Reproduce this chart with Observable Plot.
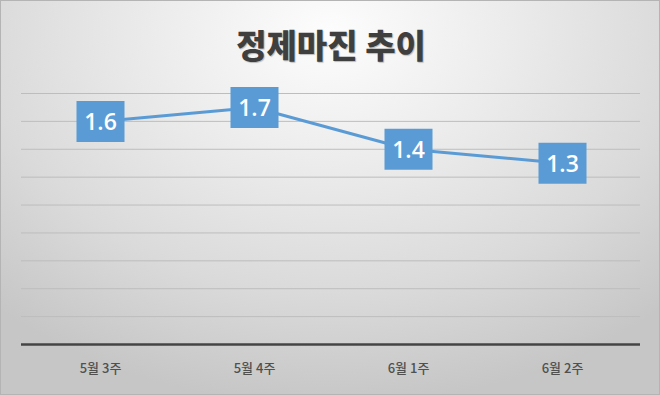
<!DOCTYPE html>
<html>
<head>
<meta charset="utf-8">
<script src="https://cdn.jsdelivr.net/npm/d3@7"></script>
<script src="https://cdn.jsdelivr.net/npm/@observablehq/plot@0.6"></script>
<style>
  html, body { margin: 0; padding: 0; }
  #chart {
    position: relative;
    width: 660px; height: 395px;
    box-sizing: border-box;
    border: 1px solid #b4b4b4;
    background: radial-gradient(ellipse 75% 95% at 50% 8%, #fdfdfd 0%, #ececec 35%, #dadada 70%, #c6c6c6 100%);
    overflow: hidden;
  }
  #title {
    position: absolute; left: 0; top: 19px; width: 660px;
    text-align: center;
    font-family: "Noto Sans CJK KR", sans-serif;
    font-weight: 900; font-size: 33px; color: #3f3f3f;
    text-shadow: 1px 1px 1px rgba(0,0,0,0.25);
    line-height: 48px;
  }
  #plot { position: absolute; left: 0; top: 0; }
</style>
</head>
<body>
<div id="chart">
  <div id="title">정제마진 추이</div>
  <div id="plot"></div>
</div>
<script>
const weeks = ["5월 3주", "5월 4주", "6월 1주", "6월 2주"];
const margins = [1.6, 1.7, 1.4, 1.3];
const gridTicks = [0.2, 0.4, 0.6, 0.8, 1.0, 1.2, 1.4, 1.6, 1.8];

const data = weeks.map((w, i) => ({week: w, value: margins[i]}));

const boxSymbol = {
  draw(context) {
    context.rect(-24, -20.5, 48, 41);
  }
};

const svg = Plot.plot({
  width: 658,
  height: 393,
  marginTop: 92,
  marginBottom: 50,
  marginLeft: 20,
  marginRight: 19,
  style: {background: "transparent", overflow: "visible"},
  x: {type: "point", domain: weeks, padding: 0.5, label: null},
  y: {domain: [0, 1.8], axis: null},
  marks: [
    Plot.ruleY(gridTicks, {stroke: "#bdbdbd", strokeWidth: 1}),
    Plot.ruleY([0], {stroke: "#444", strokeWidth: 2.5}),
    Plot.axisX({
      tickSize: 0, tickPadding: 19, label: null,
      fontSize: 13, fill: "#505050", fontWeight: 500,
      fontFamily: "Noto Sans CJK KR, sans-serif"
    }),
    Plot.line(data, {x: "week", y: "value", stroke: "#5b9bd5", strokeWidth: 3}),
    Plot.dot(data, {x: "week", y: "value", symbol: boxSymbol, r: 10, fill: "#5b9bd5", stroke: "none"}),
    Plot.text(data, {
      x: "week", y: "value", text: d => d.value.toFixed(1),
      fill: "white", fontSize: 23, fontWeight: 600,
      fontFamily: "Open Sans, sans-serif", dy: 1
    })
  ]
});
document.getElementById("plot").appendChild(svg);
</script>
</body>
</html>
